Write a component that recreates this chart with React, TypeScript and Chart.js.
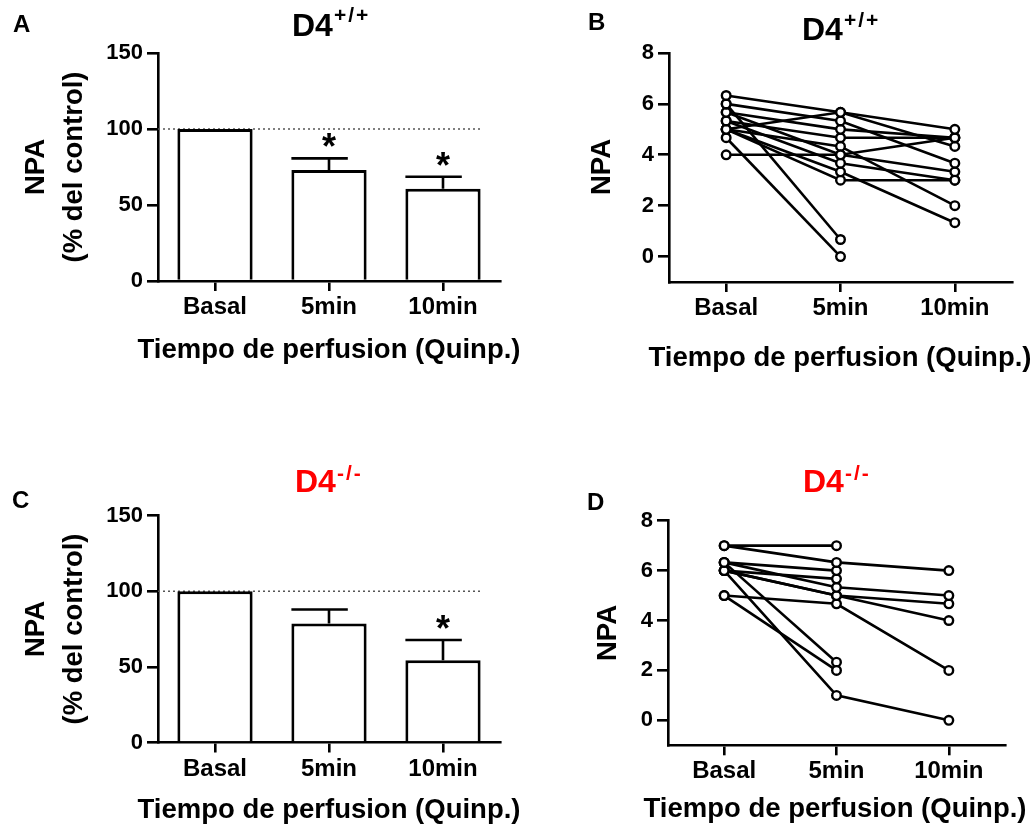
import React, { useEffect, useRef } from 'react';
import { Chart, registerables } from 'chart.js';

Chart.register(...registerables);

const FONT = '"Liberation Sans", Arial, Helvetica, sans-serif';

// ---------- data ----------
const categories = ['Basal', '5min', '10min'];

const barMeansA = [100, 73, 60.7];
const barSemA = [0, 7.7, 7.9];
const sigA = [false, true, true];

const barMeansC = [100, 78.7, 54.3];
const barSemC = [0, 9.2, 13.4];
const sigC = [false, false, true];

const barTickStep = 50;
const barMax = 150;
const npaTickStep = 2;
const npaMin = -1;
const npaMax = 8;

// individual animals, values at Basal / 5min / 10min (D4+/+)
const subjectsB: (number | null)[][] = [
  [6.33, 5.67, 5.0],
  [6.0, 0.67, null],
  [6.0, 5.33, 3.67],
  [5.67, 5.0, 4.67],
  [5.33, 4.67, 4.67],
  [5.0, 5.67, 4.33],
  [4.67, 0.0, null],
  [4.0, 4.0, 4.67],
  [5.0, 4.33, 2.0],
  [5.33, 3.67, 3.0],
  [5.0, 3.33, 1.33],
  [5.67, 4.0, 3.33],
  [5.0, 3.0, 3.0],
];

// individual animals (D4-/-)
const subjectsD: (number | null)[][] = [
  [7.0, 7.0, null],
  [7.0, 6.33, 6.0],
  [6.33, 6.0, null],
  [6.0, 5.67, null],
  [6.33, 5.33, 5.0],
  [6.0, 5.0, 4.67],
  [6.0, 5.0, 4.0],
  [5.0, 4.67, 2.0],
  [5.0, 2.0, null],
  [6.33, 2.33, null],
  [6.0, 1.0, 0.0],
];

// ---------- layout ----------
type Panel = {
  left: number; top: number; width: number; height: number;
  area: { left: number; right: number; top: number; bottom: number };
  letter: string; letterX: number; letterY: number;
  title: string; sup: string; titleX: number; titleY: number; supY: number; titleColor: string;
  xTitleX: number; xTitleY: number;
  yTitles: { text: string; x: number }[]; yTitleY: number;
};

const panelA: Panel = {
  left: 0, top: 0, width: 540, height: 460,
  area: { left: 158, right: 500, top: 53, bottom: 281 },
  letter: 'A', letterX: 13, letterY: 32,
  title: 'D4', sup: '+/+', titleX: 292, titleY: 36, supY: 22, titleColor: '#000',
  xTitleX: 329, xTitleY: 358,
  yTitles: [{ text: 'NPA', x: 36 }, { text: '(% del control)', x: 74 }], yTitleY: 167,
};
const panelB: Panel = {
  left: 540, top: 0, width: 496, height: 460,
  area: { left: 669, right: 1012, top: 53, bottom: 282 },
  letter: 'B', letterX: 588, letterY: 30,
  title: 'D4', sup: '+/+', titleX: 802, titleY: 40, supY: 27, titleColor: '#000',
  xTitleX: 840, xTitleY: 366,
  yTitles: [{ text: 'NPA', x: 602 }], yTitleY: 167,
};
const panelC: Panel = {
  left: 0, top: 460, width: 540, height: 366,
  area: { left: 158, right: 500, top: 515.5, bottom: 742.5 },
  letter: 'C', letterX: 12, letterY: 508,
  title: 'D4', sup: '-/-', titleX: 295, titleY: 492, supY: 480, titleColor: '#ff0000',
  xTitleX: 329, xTitleY: 818,
  yTitles: [{ text: 'NPA', x: 36 }, { text: '(% del control)', x: 74 }], yTitleY: 629,
};
const panelD: Panel = {
  left: 540, top: 460, width: 496, height: 366,
  area: { left: 668, right: 1005, top: 520.7, bottom: 745.3 },
  letter: 'D', letterX: 587, letterY: 510,
  title: 'D4', sup: '-/-', titleX: 803, titleY: 492, supY: 480, titleColor: '#ff0000',
  xTitleX: 835, xTitleY: 817,
  yTitles: [{ text: 'NPA', x: 608 }], yTitleY: 633,
};

const LW = 2.6;

// ---------- plugins ----------
function textPlugin(p: Panel) {
  return {
    id: 'panelText',
    afterDraw(chart: any) {
      const ctx = chart.ctx as CanvasRenderingContext2D;
      const ox = p.left, oy = p.top;
      ctx.save();
      ctx.fillStyle = '#000';
      ctx.textBaseline = 'alphabetic';
      ctx.textAlign = 'left';
      ctx.font = `bold 24px ${FONT}`;
      ctx.fillText(p.letter, p.letterX - ox, p.letterY - oy);

      ctx.fillStyle = p.titleColor;
      ctx.font = `bold 32px ${FONT}`;
      ctx.fillText(p.title, p.titleX - ox, p.titleY - oy);
      const tw = ctx.measureText(p.title).width;
      ctx.font = `bold 21px ${FONT}`;
      (ctx as any).letterSpacing = '2px';
      ctx.fillText(p.sup, p.titleX - ox + tw + 1, p.supY - oy);
      (ctx as any).letterSpacing = '0px';

      ctx.fillStyle = '#000';
      ctx.font = `bold 27.5px ${FONT}`;
      ctx.textAlign = 'center';
      ctx.fillText('Tiempo de perfusion (Quinp.)', p.xTitleX - ox, p.xTitleY - oy);

      ctx.textBaseline = 'middle';
      for (const t of p.yTitles) {
        ctx.save();
        ctx.translate(t.x - ox, p.yTitleY - oy);
        ctx.rotate(-Math.PI / 2);
        ctx.fillText(t.text, 0, 0);
        ctx.restore();
      }
      ctx.restore();
    },
  };
}

function barExtrasPlugin(sem: number[], sig: boolean[]) {
  return {
    id: 'barExtras',
    beforeDatasetsDraw(chart: any) {
      const ctx = chart.ctx as CanvasRenderingContext2D;
      const y = chart.scales.y.getPixelForValue(100);
      const meta = chart.getDatasetMeta(0);
      const last = meta.data[meta.data.length - 1];
      ctx.save();
      ctx.strokeStyle = '#555';
      ctx.lineWidth = 1.5;
      ctx.setLineDash([2, 3]);
      ctx.beginPath();
      ctx.moveTo(chart.chartArea.left, y);
      ctx.lineTo(last.x + last.width / 2, y);
      ctx.stroke();
      ctx.restore();
    },
    afterDatasetsDraw(chart: any) {
      const ctx = chart.ctx as CanvasRenderingContext2D;
      const meta = chart.getDatasetMeta(0);
      const values = chart.data.datasets[0].data as number[];
      ctx.save();
      ctx.strokeStyle = '#000';
      ctx.fillStyle = '#000';
      ctx.lineWidth = LW;
      meta.data.forEach((bar: any, i: number) => {
        const top = chart.scales.y.getPixelForValue(values[i] + sem[i]);
        if (sem[i] > 0) {
          ctx.beginPath();
          ctx.moveTo(bar.x, bar.y);
          ctx.lineTo(bar.x, top);
          ctx.moveTo(bar.x - bar.width / 2, top);
          ctx.lineTo(bar.x + bar.width / 4, top);
          ctx.stroke();
        }
        if (sig[i]) {
          ctx.font = `bold 36px ${FONT}`;
          ctx.textAlign = 'center';
          ctx.textBaseline = 'alphabetic';
          ctx.fillText('*', bar.x, top + 1);
        }
      });
      ctx.restore();
    },
  };
}

// ---------- config ----------
function axisCommon(p: Panel) {
  return {
    x: {
      type: 'category' as const,
      offset: true,
      grid: { display: true, offset: false, drawOnChartArea: false, drawTicks: true, tickLength: 10, color: '#000', lineWidth: LW },
      border: { display: true, color: '#000', width: LW },
      ticks: { color: '#000', font: { family: FONT, size: 24, weight: 'bold' as const }, padding: 2, maxRotation: 0, autoSkip: false },
      afterFit: (s: any) => { s.height = p.top + p.height - p.area.bottom; },
    },
  };
}

function yAxis(p: Panel, min: number, max: number, step: number) {
  return {
    type: 'linear' as const,
    min, max,
    grid: { display: true, drawOnChartArea: false, drawTicks: true, tickLength: 11, color: '#000', lineWidth: LW },
    border: { display: true, color: '#000', width: LW },
    ticks: { stepSize: step, includeBounds: false, color: '#000', font: { family: FONT, size: 22, weight: 'bold' as const }, padding: 4 },
    afterBuildTicks: (s: any) => { s.ticks = s.ticks.filter((t: any) => t.value >= 0); },
    afterFit: (s: any) => { s.width = p.area.left - p.left; },
  };
}

function layoutPadding(p: Panel) {
  return {
    left: 0,
    top: p.area.top - p.top,
    right: p.left + p.width - p.area.right,
    bottom: 0,
  };
}

function barConfig(p: Panel, means: number[], sem: number[], sig: boolean[]): any {
  return {
    type: 'bar',
    data: {
      labels: categories,
      datasets: [{
        data: means,
        backgroundColor: '#fff',
        borderColor: '#000',
        borderWidth: 3,
        borderSkipped: 'start',
        barPercentage: 0.66,
        categoryPercentage: 1,
      }],
    },
    options: {
      animation: false,
      responsive: false,
      maintainAspectRatio: false,
      layout: { padding: layoutPadding(p) },
      plugins: { legend: { display: false }, tooltip: { enabled: false }, title: { display: false } },
      scales: { ...axisCommon(p), y: yAxis(p, 0, barMax, barTickStep) },
    },
    plugins: [barExtrasPlugin(sem, sig), textPlugin(p)],
  };
}

function lineConfig(p: Panel, subjects: (number | null)[][]): any {
  const lines = subjects.map((s) => ({
    data: s,
    borderColor: '#000',
    borderWidth: LW,
    pointRadius: 0,
    tension: 0,
    fill: false,
    order: 1,
  }));
  const points = subjects.map((s) => ({
    data: s,
    showLine: false,
    pointRadius: 4.3,
    pointBorderWidth: 2.4,
    pointBackgroundColor: '#fff',
    pointBorderColor: '#000',
    order: 0,
  }));
  return {
    type: 'line',
    data: { labels: categories, datasets: [...lines, ...points] },
    options: {
      animation: false,
      responsive: false,
      maintainAspectRatio: false,
      layout: { padding: layoutPadding(p) },
      plugins: { legend: { display: false }, tooltip: { enabled: false }, title: { display: false } },
      scales: { ...axisCommon(p), y: yAxis(p, npaMin, npaMax, npaTickStep) },
    },
    plugins: [textPlugin(p)],
  };
}

function ChartCanvas({ panel, config }: { panel: Panel; config: () => any }) {
  const ref = useRef<HTMLCanvasElement | null>(null);
  useEffect(() => {
    if (!ref.current) return;
    const chart = new Chart(ref.current, config());
    return () => chart.destroy();
  }, []);
  return (
    <canvas
      ref={ref}
      width={panel.width}
      height={panel.height}
      style={{ position: 'absolute', left: panel.left, top: panel.top, width: panel.width, height: panel.height }}
    />
  );
}

export default function App() {
  return (
    <div style={{ position: 'absolute', left: 0, top: 0, width: 1036, height: 826, background: '#fff', overflow: 'hidden' }}>
      <ChartCanvas panel={panelA} config={() => barConfig(panelA, barMeansA, barSemA, sigA)} />
      <ChartCanvas panel={panelB} config={() => lineConfig(panelB, subjectsB)} />
      <ChartCanvas panel={panelC} config={() => barConfig(panelC, barMeansC, barSemC, sigC)} />
      <ChartCanvas panel={panelD} config={() => lineConfig(panelD, subjectsD)} />
    </div>
  );
}
